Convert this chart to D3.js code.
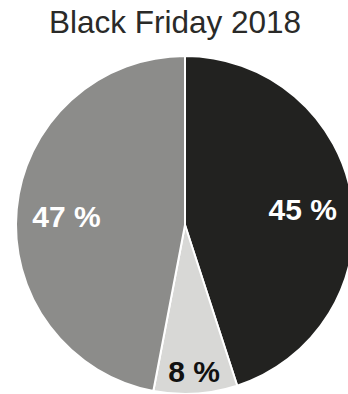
<!DOCTYPE html>
<html>
<head>
<meta charset="utf-8">
<script src="https://cdn.jsdelivr.net/npm/d3@7"></script>
<style>
  body { margin: 0; background: #fff; }
  text { font-family: "Liberation Sans", Arial, sans-serif; }
</style>
</head>
<body>
<div id="vis"></div>
<script>
const FRAME_WIDTH = 348;
const FRAME_HEIGHT = 394;

// data
const categories = ["A", "B", "C"];
const values = [45, 8, 47];
const labels = ["45 %", "8 %", "47 %"];
const colors = ["#222220", "#d8d8d6", "#8c8c8a"];
const labelColors = ["#ffffff", "#111111", "#ffffff"];

const CX = 185, CY = 225, R = 169;

const FRAME = d3.select("#vis")
  .append("svg")
    .attr("width", FRAME_WIDTH)
    .attr("height", FRAME_HEIGHT);

// title
FRAME.append("text")
  .attr("x", 175)
  .attr("y", 33)
  .attr("text-anchor", "middle")
  .attr("font-size", "31.5px")
  .attr("fill", "#2a2a28")
  .text("Black Friday 2018");

const pie = d3.pie().sort(null).value((d) => d.v);
const arcs = pie(categories.map((c, i) => ({ c: c, v: values[i], i: i })));

const arc = d3.arc().innerRadius(0).outerRadius(R);
const total = d3.sum(values);

const g = FRAME.append("g")
  .attr("transform", "translate(" + CX + "," + CY + ")");

g.selectAll("path")
  .data(arcs)
  .enter()
  .append("path")
    .attr("d", arc)
    .attr("fill", (d) => colors[d.data.i])
    .attr("stroke", "#ffffff")
    .attr("stroke-width", 2)
    .attr("stroke-linejoin", "round");

// small slices get their label pushed towards the rim
const labelArc = (d) => {
  const r = d.data.v / total < 0.1 ? R * 0.85 : R * 0.705;
  return d3.arc().innerRadius(r).outerRadius(r).centroid(d);
};

g.selectAll("text.lbl")
  .data(arcs)
  .enter()
  .append("text")
    .attr("class", "lbl")
    .attr("x", (d) => labelArc(d)[0])
    .attr("y", (d) => labelArc(d)[1])
    .attr("dy", "0.45em")
    .attr("text-anchor", "middle")
    .attr("font-size", "30px")
    .attr("font-weight", "bold")
    .attr("fill", (d) => labelColors[d.data.i])
    .text((d) => labels[d.data.i]);
</script>
</body>
</html>
